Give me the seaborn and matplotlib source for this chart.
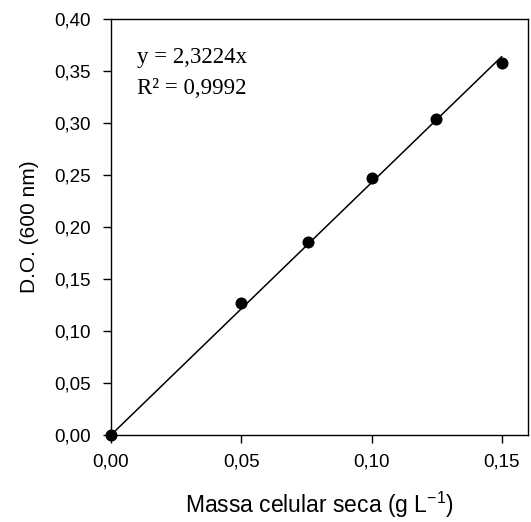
import numpy as np
import pandas as pd
import matplotlib
matplotlib.use("Agg")
import matplotlib.pyplot as plt
from matplotlib.ticker import FuncFormatter, MultipleLocator
import seaborn as sns

massa = [0.0, 0.05, 0.0757, 0.10, 0.1247, 0.15]
do600 = [0.0, 0.1266, 0.1853, 0.247, 0.3036, 0.3574]
eq_text = "y = 2,3224x"
r2_text = "R² = 0,9992"

df = pd.DataFrame({"x": massa, "y": do600})
xa = np.array(massa); ya = np.array(do600)
slope = (xa * ya).sum() / (xa * xa).sum()
line_df = pd.DataFrame({"x": [0.0, 0.15]})
line_df["y"] = slope * line_df["x"]

sns.set_style("ticks")
plt.rcParams['font.family'] = ['Liberation Sans', 'DejaVu Sans']
plt.rcParams['text.color'] = 'black'
plt.rcParams['axes.labelcolor'] = 'black'

fig = plt.figure(figsize=(5.31, 5.22), dpi=100)
ax = fig.add_axes([0.209, 0.1667, 0.785, 0.797])

sns.lineplot(data=line_df, x="x", y="y", ax=ax, color="black", linewidth=1.1)
sns.scatterplot(data=df, x="x", y="y", ax=ax, color="black", s=75,
                edgecolor="black", linewidth=0, zorder=5, clip_on=False)

ax.set_xlim(0, 0.16)
ax.set_ylim(0, 0.40)
ax.xaxis.set_major_locator(MultipleLocator(0.05))
ax.yaxis.set_major_locator(MultipleLocator(0.05))
fmt = FuncFormatter(lambda v, p: f"{v:.2f}".replace(".", ","))
ax.xaxis.set_major_formatter(fmt)
ax.yaxis.set_major_formatter(fmt)
ax.tick_params(direction="out", length=6, width=1, colors="black",
               labelcolor="black", labelsize=13.5)
ax.tick_params(axis="x", pad=7)
ax.tick_params(axis="y", pad=8.5)
for s in ax.spines.values():
    s.set_visible(True)
    s.set_color("black")
    s.set_linewidth(1.0)

ax.set_xlabel("Massa celular seca (g L$^{\\mathregular{-1}}$)", fontsize=16.5, labelpad=14,
              color="black")
ax.set_ylabel("D.O. (600 nm)", fontsize=15, labelpad=11, color="black")

ax.text(0.062, 0.894, eq_text, transform=ax.transAxes, fontsize=16.5, color="black",
        family=['Liberation Serif', 'DejaVu Serif'], va="baseline")
ax.text(0.062, 0.82, r2_text, transform=ax.transAxes, fontsize=16.5, color="black",
        family=['Liberation Serif', 'DejaVu Serif'], va="baseline")

fig.savefig("out.png", dpi=100)
